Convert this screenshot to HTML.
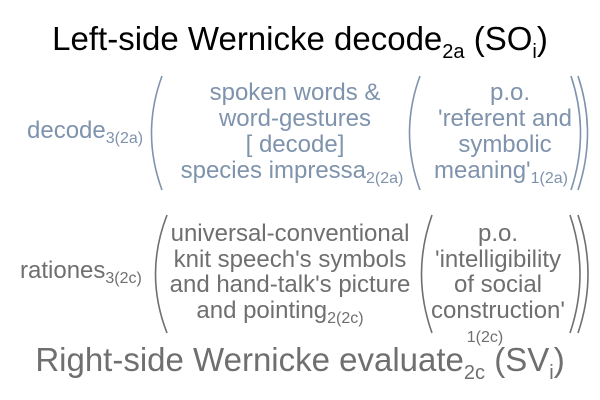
<!DOCTYPE html>
<html><head><meta charset="utf-8"><style>
html,body{margin:0;padding:0;background:#fff;}
svg{display:block;font-family:"Liberation Sans",Arial,sans-serif;}
</style></head><body>
<svg width="600" height="400" viewBox="0 0 600 400">
<text x="300" y="50" text-anchor="middle" font-size="33" fill="#000">Left-side Wernicke decode<tspan font-size="20" dy="8">2a</tspan><tspan dy="-8"> (SO</tspan><tspan font-size="20" dy="8">i</tspan><tspan dy="-8">)</tspan></text>

<g fill="#7f93ad" font-size="24">
<text x="27" y="138">decode<tspan font-size="16" dy="5">3(2a)</tspan></text>
<g text-anchor="middle">
<text x="295" y="100">spoken words &amp;</text>
<text x="295" y="126">word-gestures</text>
<text x="295" y="152">[ decode]</text>
<text x="292" y="178">species impressa<tspan font-size="16" dy="5">2(2a)</tspan></text>
<text x="510" y="100">p.o.</text>
<text x="505" y="126">'referent and</text>
<text x="505" y="152">symbolic</text>
<text x="501" y="178">meaning'<tspan font-size="16" dy="5">1(2a)</tspan></text>
</g>
</g>
<g fill="none" stroke="#7f93ad" stroke-width="1.6">
<path d="M162 76 Q141 133 162 190"/>
<path d="M420 76 Q399 133 420 190"/>
<path d="M571 76 Q590 133 571 190"/>
<path d="M578 76 Q597 133 578 190"/>
</g>

<g fill="#6f6f6f" font-size="24">
<text x="20" y="278">rationes<tspan font-size="16" dy="5">3(2c)</tspan></text>
<g text-anchor="middle">
<text x="290" y="241">universal-conventional</text>
<text x="290" y="267">knit speech's symbols</text>
<text x="290" y="292">and hand-talk's picture</text>
<text x="280" y="318">and pointing<tspan font-size="16" dy="5">2(2c)</tspan></text>
<text x="498" y="241">p.o.</text>
<text x="498" y="267">'intelligibility</text>
<text x="498" y="292">of social</text>
<text x="498" y="318">construction'</text>
<text x="485" y="342" font-size="16">1(2c)</text>
</g>
<text x="300" y="371" text-anchor="middle" font-size="33">Right-side Wernicke evaluate<tspan font-size="20" dy="8">2c</tspan><tspan dy="-8"> (SV</tspan><tspan font-size="20" dy="8">i</tspan><tspan dy="-8">)</tspan></text>
</g>
<g fill="none" stroke="#6f6f6f" stroke-width="1.6">
<path d="M167 215 Q144 274 167 333"/>
<path d="M432 215 Q411 274 432 333"/>
<path d="M570 215 Q590 274 570 333"/>
<path d="M578 215 Q598 274 578 333"/>
</g>
</svg>
</body></html>
